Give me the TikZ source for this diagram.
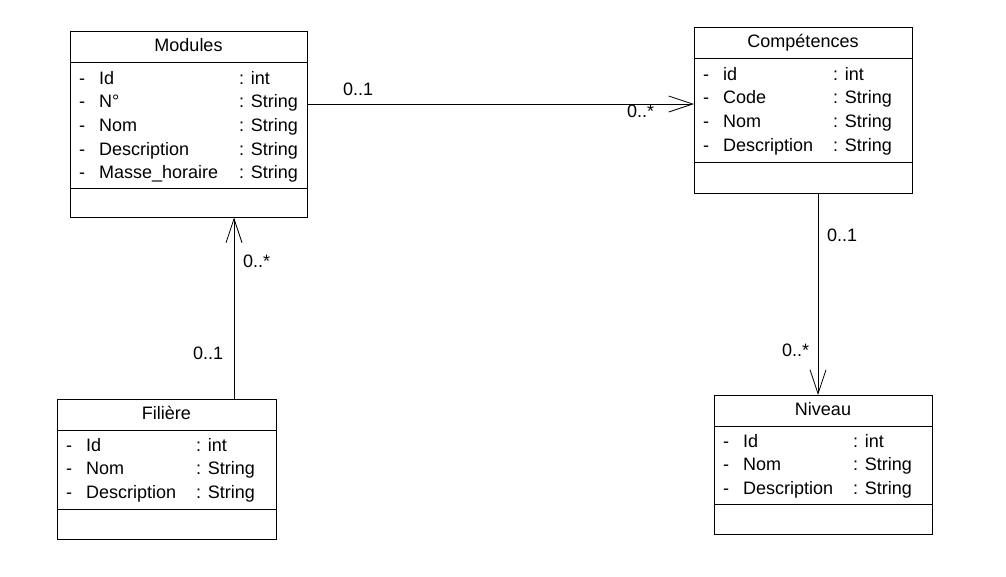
\documentclass[tikz,border=0pt]{standalone}
\usepackage{fontspec}
\setmainfont{Liberation Sans}
\usetikzlibrary{positioning,arrows.meta}
\newcommand{\umlattr}[3][110pt]{\makebox[20pt][l]{-}\makebox[#1][l]{#2}: #3}

\begin{document}
\begin{tikzpicture}[x=1pt,y=-1pt,
    every node/.style={font=\fontsize{18}{23.7}\selectfont},
    classhead/.style={draw,line width=0.8pt,rectangle,outer sep=0pt,inner sep=0pt,
      minimum width=218pt,minimum height=31.5pt,text height=12.9pt,text depth=3.6pt,
      anchor=north west},
    classpart/.style={draw,line width=0.8pt,rectangle,outer sep=0pt,inner sep=0pt,
      minimum width=218pt},
    attr/.style={anchor=base west,inner sep=0pt},
    mult/.style={anchor=base west,inner sep=0pt},
    assoc/.style={line width=0.8pt,-{Straight Barb[length=24pt,width=16pt]}}]
  \useasboundingbox (0,0) rectangle (1006,576);
  % Modules
  \node[classhead,minimum width=237pt] (mod) at (70,31) {Modules};
  \node[classpart,minimum width=237pt,minimum height=126pt,below=0pt of mod] (modatt) {};
  \node[classpart,minimum width=237pt,minimum height=29pt,below=0pt of modatt] (modop) {};
  \node[attr] (mod1) at (79,84) {\umlattr[140pt]{Id}{int}};
  \node[attr] (mod2) at (79,107.7) {\umlattr[140pt]{N°}{String}};
  \node[attr] (mod3) at (79,131.4) {\umlattr[140pt]{Nom}{String}};
  \node[attr] (mod4) at (79,155.1) {\umlattr[140pt]{Description}{String}};
  \node[attr] (mod5) at (79,178.8) {\umlattr[140pt]{Masse\_horaire}{String}};
  % Compétences
  \node[classhead] (comp) at (694,27) {Compétences};
  \node[classpart,minimum height=104pt,below=0pt of comp] (compatt) {};
  \node[classpart,minimum height=31pt,below=0pt of compatt] (compop) {};
  \node[attr] (comp1) at (703,80) {\umlattr{id}{int}};
  \node[attr] (comp2) at (703,103.7) {\umlattr{Code}{String}};
  \node[attr] (comp3) at (703,127.4) {\umlattr{Nom}{String}};
  \node[attr] (comp4) at (703,151.1) {\umlattr{Description}{String}};
  % Filière
  \node[classhead,minimum width=219pt] (fil) at (57,399) {Filière};
  \node[classpart,minimum width=219pt,minimum height=79pt,below=0pt of fil] (filatt) {};
  \node[classpart,minimum width=219pt,minimum height=30pt,below=0pt of filatt] (filop) {};
  \node[attr] (fil1) at (66,451) {\umlattr{Id}{int}};
  \node[attr] (fil2) at (66,474.7) {\umlattr{Nom}{String}};
  \node[attr] (fil3) at (66,498.4) {\umlattr{Description}{String}};
  % Niveau
  \node[classhead] (niv) at (714,395) {Niveau};
  \node[classpart,minimum height=78pt,below=0pt of niv] (nivatt) {};
  \node[classpart,minimum height=30pt,below=0pt of nivatt] (nivop) {};
  \node[attr] (niv1) at (723,447) {\umlattr{Id}{int}};
  \node[attr] (niv2) at (723,470.7) {\umlattr{Nom}{String}};
  \node[attr] (niv3) at (723,494.4) {\umlattr{Description}{String}};
  % associations
  \coordinate (ymc) at (0,104);
  \coordinate (xfm) at (234,0);
  \coordinate (xcn) at (818,0);
  \draw[assoc] (modatt.east |- ymc) -- (compatt.west |- ymc);
  \draw[assoc] (fil.north -| xfm) -- (modop.south -| xfm);
  \draw[assoc] (compop.south -| xcn) -- (niv.north -| xcn);
  % multiplicities
  \node[mult] (mc1) at (343,95) {0..1};
  \node[mult] (mc2) at (627,117) {0..*};
  \node[mult] (fm1) at (193,359) {0..1};
  \node[mult] (fm2) at (243,267) {0..*};
  \node[mult] (cn1) at (827,241) {0..1};
  \node[mult] (cn2) at (782,356) {0..*};
\end{tikzpicture}
\end{document}
